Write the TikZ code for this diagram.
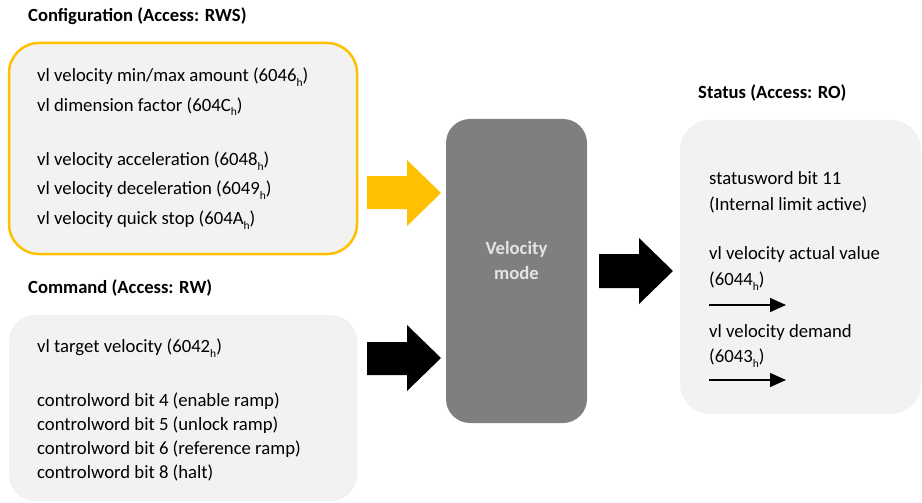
\documentclass[tikz,border=0pt]{standalone}
\usepackage{fontspec}
\setmainfont{Carlito}
\usetikzlibrary{arrows.meta}
\definecolor{cfgorange}{HTML}{FFC000}
\definecolor{boxgray}{HTML}{F2F2F2}
\definecolor{modegray}{HTML}{7F7F7F}
\definecolor{modetext}{HTML}{E4E4E4}
\newcommand\hsub{\raisebox{-5pt}{\fontsize{11.5}{11.5}\selectfont h}}
\tikzset{
  txt/.style={anchor=base west, inner sep=0pt, font=\fontsize{18.7}{22}\selectfont},
  ttl/.style={anchor=base west, inner sep=0pt, font=\fontsize{18.6}{22}\selectfont\bfseries},
  thinarrow/.style={line width=1.3pt, -{Triangle[length=16pt,width=14pt]}}
}
\begin{document}
\begin{tikzpicture}[x=1pt,y=-1pt]
\useasboundingbox (0,0) rectangle (922,503);
% boxes
\draw[cfgorange, line width=2.5pt, fill=boxgray, rounded corners=30pt] (9,43) rectangle (357,254);
\fill[boxgray, rounded corners=30pt] (680,120) rectangle (921,414);
\fill[modegray, rounded corners=24pt] (446,119) rectangle (587,423);
\fill[boxgray, rounded corners=26pt] (9,315) rectangle (357,501);
% titles
\node[ttl] (tcfg) at (28,22) {Configuration (Access: RWS)};
\node[ttl] (tcmd) at (28,293) {Command (Access: RW)};
\node[ttl] (tsta) at (698,99) {Status (Access: RO)};
% configuration
\node[txt] (c1) at (37,82) {vl velocity min/max amount (6046\hsub)};
\node[txt] (c2) at (37,111) {vl dimension factor (604C\hsub)};
\node[txt] (c3) at (37,165) {vl velocity acceleration (6048\hsub)};
\node[txt] (c4) at (37,194) {vl velocity deceleration (6049\hsub)};
\node[txt] (c5) at (37,224) {vl velocity quick stop (604A\hsub)};
% command
\node[txt] (m1) at (37,352) {vl target velocity (6042\hsub)};
\node[txt] (m2) at (37,406) {controlword bit 4 (enable ramp)};
\node[txt] (m3) at (37,430) {controlword bit 5 (unlock ramp)};
\node[txt] (m4) at (37,454) {controlword bit 6 (reference ramp)};
\node[txt] (m5) at (37,478) {controlword bit 8 (halt)};
% velocity mode
\node[font=\fontsize{18.7}{25}\selectfont\bfseries, text=modetext, align=center, inner sep=0pt] (vm) at (516.5,261) {Velocity\\mode};
% status
\node[txt] (s1) at (709,184) {statusword bit 11};
\node[txt] (s2) at (709,210) {(Internal limit active)};
\node[txt] (s3) at (709,259) {vl velocity actual value};
\node[txt] (s4) at (709,285) {(6044\hsub)};
\node[txt] (s5) at (709,337) {vl velocity demand};
\node[txt] (s6) at (709,362) {(6043\hsub)};
\coordinate (a1s) at (709,305);
\coordinate (a1e) at (786,305);
\coordinate (a2s) at (709,380);
\coordinate (a2e) at (786,380);
\draw[thinarrow] (a1s) -- (a1e);
\draw[thinarrow] (a2s) -- (a2e);
% block arrows
\fill[cfgorange] (367,176) -- (407,176) -- (407,160) -- (441,193) -- (407,226) -- (407,209) -- (367,209) -- cycle;
\fill[black] (367,342) -- (407,342) -- (407,325) -- (441,358) -- (407,391) -- (407,375) -- (367,375) -- cycle;
\fill[black] (599,254) -- (639,254) -- (639,238) -- (673,271) -- (639,304) -- (639,288) -- (599,288) -- cycle;
\end{tikzpicture}
\end{document}
